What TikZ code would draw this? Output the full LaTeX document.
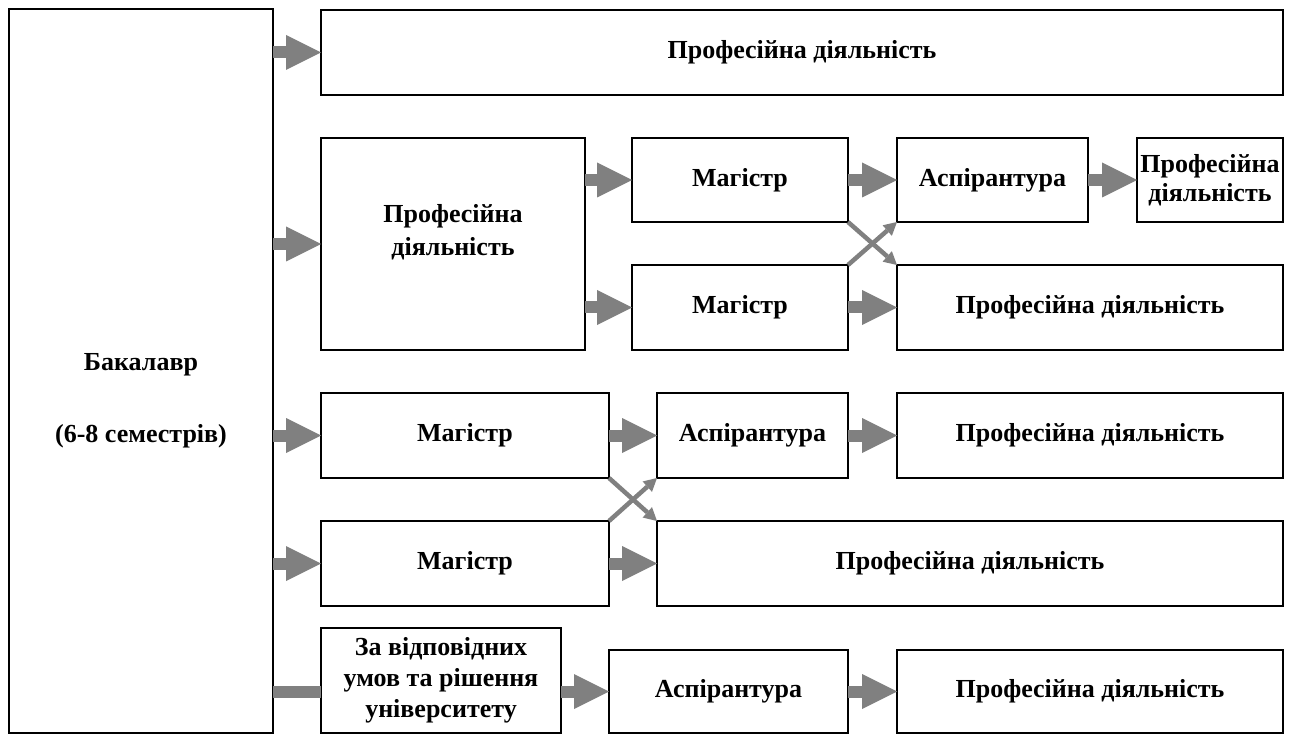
\documentclass[tikz,border=0pt]{standalone}
\usepackage{fontspec}
\setmainfont{Liberation Serif}
\usetikzlibrary{arrows.meta}
% \placebox{name}{x1}{y1}{x2}{y2}{text}: framed box from corner (x1,y1) to (x2,y2)
\newcommand\placebox[6]{%
  \node[box, anchor=north west, minimum width={#4pt-#2pt}, minimum height={#5pt-#3pt}]
    (#1) at (#2,#3) {#6};}
\begin{document}
\begin{tikzpicture}[x=1pt,y=-1pt,
  label font/.style={font=\fontsize{26}{31}\selectfont\bfseries},
  box/.style={draw, line width=1.6pt, inner sep=0pt, outer sep=0pt, align=center,
    label font},
  caption/.style={align=center, inner sep=0pt, label font},
  flow/.style={draw=gray, line width=12pt,
    -{Triangle[length=35pt,width=35pt,line width=0pt]}},
  bar/.style={draw=gray, line width=12pt},
  cross/.style={draw=gray, line width=4.5pt,
    -{Triangle[length=13pt,width=14pt,line width=0pt]}}]

\fill[white] (0,0) rectangle (1293,735);
\useasboundingbox (0,0) rectangle (1293,735);

% boxes
\placebox{bak}{9}{9}{273}{733}{}
\node[caption] (baktext) at ([yshift=-30pt]bak.center) {Бакалавр\\[41pt](6-8 семестрів)};
\placebox{top}{321}{10}{1283}{95}{Професійна діяльність}

\placebox{big}{321}{138}{585}{350}{}
\node[caption] (bigtext) at ([yshift=12pt]big.center) {Професійна\\[2pt]діяльність};
\placebox{m1}{632}{138}{848}{222}{Магістр}
\placebox{a1}{897}{138}{1088}{222}{Аспірантура}
\placebox{ps}{1137}{138}{1283}{222}{Професійна\\[-2pt]діяльність}
\placebox{m2}{632}{265}{848}{350}{Магістр}
\placebox{p2}{897}{265}{1283}{350}{Професійна діяльність}

\placebox{m3}{321}{393}{609}{478}{Магістр}
\placebox{a2}{657}{393}{848}{478}{Аспірантура}
\placebox{p3}{897}{393}{1283}{478}{Професійна діяльність}
\placebox{m4}{321}{521}{609}{606}{Магістр}
\placebox{p4}{657}{521}{1283}{606}{Професійна діяльність}

\placebox{za}{321}{628}{561}{733}{За відповідних\\умов та рішення\\університету}
\placebox{a3}{609}{650}{848}{733}{Аспірантура}
\placebox{p5}{897}{650}{1283}{733}{Професійна діяльність}

% block arrows out of the bachelor box
\draw[flow] (bak.east |- top.west) -- (top.west);
\draw[flow] (bak.east |- big.west) -- (big.west);
\draw[flow] (bak.east |- m3.west) -- (m3.west);
\draw[flow] (bak.east |- m4.west) -- (m4.west);
\draw[bar] (bak.east |- a3.west) -- (za.west |- a3.west);

% second group
\draw[flow] (big.east |- m1.west) -- (m1.west);
\draw[flow] (big.east |- m2.west) -- (m2.west);
\draw[flow] (m1.east) -- (a1.west);
\draw[flow] (a1.east) -- (ps.west);
\draw[flow] (m2.east) -- (p2.west);
\draw[cross] (m1.south east) -- (p2.north west);
\draw[cross] (m2.north east) -- (a1.south west);

% third group
\draw[flow] (m3.east) -- (a2.west);
\draw[flow] (a2.east) -- (p3.west);
\draw[flow] (m4.east) -- (p4.west);
\draw[cross] (m3.south east) -- (p4.north west);
\draw[cross] (m4.north east) -- (a2.south west);

% last row
\draw[flow] (za.east |- a3.west) -- (a3.west);
\draw[flow] (a3.east) -- (p5.west);
\end{tikzpicture}
\end{document}
